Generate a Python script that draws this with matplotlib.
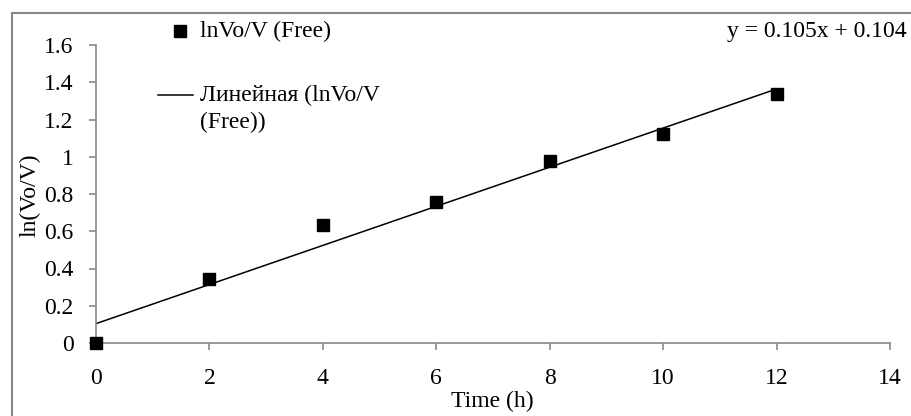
import matplotlib.pyplot as plt
from matplotlib.lines import Line2D
from matplotlib.patches import Rectangle
import numpy as np

plt.rcParams['font.family'] = ['Liberation Serif', 'DejaVu Serif']
plt.rcParams['font.size'] = 17

# data
time_h = [0, 2, 4, 6, 8, 10, 12]
ln_v0_v = [0.0, 0.345, 0.633, 0.755, 0.977, 1.124, 1.335]
slope = 0.105
intercept = 0.104
x_ticks = [0, 2, 4, 6, 8, 10, 12, 14]
y_ticks = [0, 0.2, 0.4, 0.6, 0.8, 1.0, 1.2, 1.4, 1.6]
y_tick_labels = ['0', '0.2', '0.4', '0.6', '0.8', '1', '1.2', '1.4', '1.6']

axis_color = '#898989'

fig = plt.figure(figsize=(9.11, 4.16), dpi=100)
ax = fig.add_axes([96 / 911, 1 - 343 / 416, (890 - 96) / 911, (343 - 45) / 416])

# outer frame
fig.patches.append(Rectangle((11.5 / 911, -0.2), 1.2, 0.2 + 1 - 12.5 / 416,
                             transform=fig.transFigure, fill=False,
                             edgecolor=axis_color, linewidth=1.5))

fit_x = np.array([time_h[0], time_h[-1]])
ax.plot(fit_x, slope * fit_x + intercept, '-', color='black', linewidth=1.1)
ax.plot(time_h, ln_v0_v, 's', color='black', markersize=8.5, clip_on=False, zorder=5)

ax.set_xlim(0, 14)
ax.set_ylim(0, 1.6)
ax.set_xticks(x_ticks)
ax.set_yticks(y_ticks)
ax.set_yticklabels(y_tick_labels)

for side in ['top', 'right']:
    ax.spines[side].set_visible(False)
for side in ['left', 'bottom']:
    ax.spines[side].set_color(axis_color)
    ax.spines[side].set_linewidth(1.2)
ax.tick_params(axis='x', direction='out', length=5, width=1.2, color=axis_color, pad=13)
ax.tick_params(axis='y', direction='out', length=5, width=1.2, color=axis_color, pad=11)

fig.text(492 / 911, 1 - 401 / 416, 'Time (h)', ha='center', va='center')
fig.text(30 / 911, 1 - 195 / 416, 'ln(Vo/V)', ha='center', va='center', rotation=90)

# legend
fig.lines.append(Line2D([180 / 911], [1 - 31 / 416], marker='s', color='black',
                        markersize=8.5, linestyle='none', transform=fig.transFigure))
fig.text(200 / 911, 1 - 31 / 416, 'lnVo/V (Free)', ha='left', va='center')
fig.lines.append(Line2D([158 / 911, 193 / 911], [1 - 95 / 416, 1 - 95 / 416], color='black',
                        linewidth=1.1, transform=fig.transFigure))
fig.text(200 / 911, 1 - 109 / 416, 'Линейная (lnVo/V\n(Free))', ha='left', va='center',
         linespacing=1.35)

fig.text(907 / 911, 1 - 32 / 416, 'y = 0.105x + 0.104', ha='right', va='center')

fig.savefig('out.png', dpi=100)
